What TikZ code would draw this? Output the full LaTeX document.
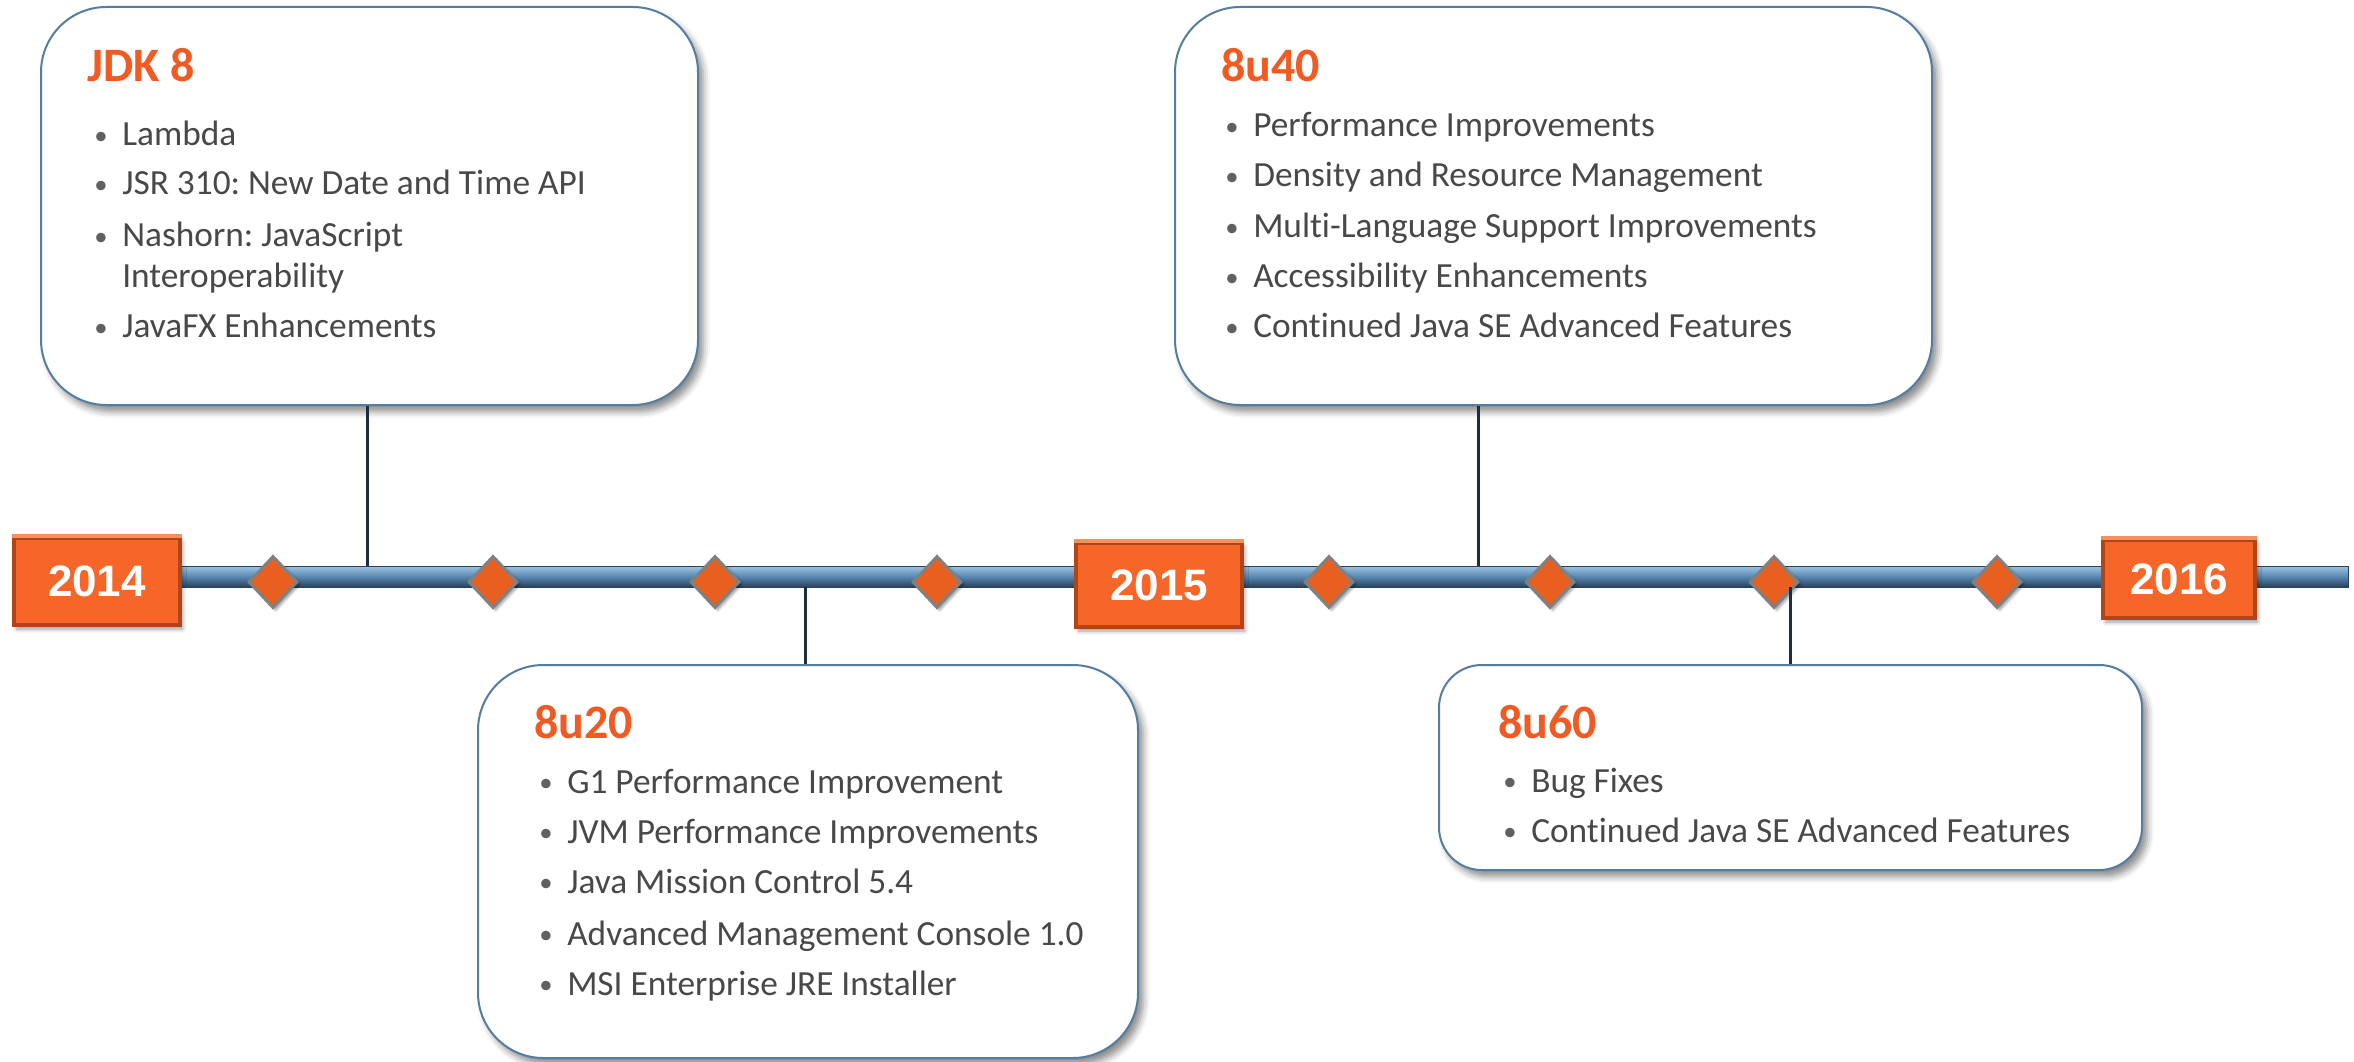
\documentclass[tikz,border=0pt]{standalone}
\usepackage{fontspec}
\setmainfont{Carlito}[Ligatures={TeX,NoCommon}]
\newfontfamily\yearfont{Liberation Sans}
\usetikzlibrary{shapes.geometric,shadows.blur}
\frenchspacing

\definecolor{ttlorange}{RGB}{240,90,35}
\definecolor{textgray}{RGB}{72,72,72}
\definecolor{bulgray}{RGB}{96,96,96}
\definecolor{boxline}{RGB}{84,125,160}
\definecolor{stemcol}{RGB}{30,45,60}
\definecolor{barlight}{RGB}{160,196,226}
\definecolor{barmid}{RGB}{88,136,178}
\definecolor{bardark}{RGB}{40,66,92}
\definecolor{yearface}{RGB}{245,102,40}
\definecolor{yeardark}{RGB}{176,70,24}
\definecolor{yearlight}{RGB}{250,142,92}
\definecolor{diamfill}{RGB}{232,95,32}
\definecolor{diamline}{RGB}{128,128,128}

\newcommand{\bl}{\makebox[21pt][l]{\textcolor{bulgray}{\fontsize{20}{24}\selectfont\raisebox{1pt}{\textbullet}}}}

\tikzset{
  relbox/.style={draw=boxline, line width=1.5pt, fill=white, rounded corners=49pt, inner sep=0pt,
    blur shadow={shadow xshift=4pt, shadow yshift=-5pt, shadow blur radius=5pt, shadow opacity=45}},
  ttl/.style={anchor=base west, inner sep=0pt, text=ttlorange, font=\fontsize{36}{40}\selectfont\bfseries},
  item/.style={anchor=base west, inner sep=0pt, text=textgray, font=\fontsize{26.5}{32}\selectfont},
  yearbox/.style={fill=yearface, draw=yeardark, line width=3pt, inner sep=0pt, text=white,
    font=\yearfont\bfseries\fontsize{33}{38}\selectfont,
    blur shadow={shadow xshift=2pt, shadow yshift=-3pt, shadow blur radius=3pt, shadow opacity=40}},
  bevtop/.style={draw=yearlight, line width=3pt},
  diam/.style={diamond, minimum width=36.75pt, minimum height=39pt, inner sep=0pt, fill=diamfill,
    draw=diamline, line width=2.25pt,
    blur shadow={shadow xshift=2pt, shadow yshift=-2pt, shadow blur radius=2pt, shadow opacity=40}},
  stem/.style={draw=stemcol, line width=2.25pt}
}

\begin{document}
\begin{tikzpicture}[x=0.75pt,y=0.75pt,yscale=-1,xscale=1]
\useasboundingbox (0,0) rectangle (2354,1062);

%Shape: Timeline bar
\shade[top color=barlight, bottom color=bardark, middle color=barmid] (150,566) rectangle (2348,587);
\draw[bardark, line width=0.75pt] (150,566) rectangle (2348,587);

%Bar points for the stems
\coordinate (s14) at (367,566);
\coordinate (s20) at (805,587);
\coordinate (s40) at (1478,566);
\coordinate (s60) at (1790,587);

%Shape: Diamonds
\node[diam] (d1) at (273,582) {};
\node[diam] (d2) at (493,582) {};
\node[diam] (d3) at (715,582) {};
\node[diam] (d4) at (937,582) {};
\node[diam] (d5) at (1329,582) {};
\node[diam] (d6) at (1550,582) {};
\node[diam] (d7) at (1774,582) {};
\node[diam] (d8) at (1997,582) {};

%Shape: Year boxes
\node[yearbox, minimum width=124.5pt, minimum height=65.25pt] (y14) at (97,581.5) {2014};
\node[yearbox, minimum width=124.5pt, minimum height=63pt] (y15) at (1159,585) {2015};
\node[yearbox, minimum width=114pt, minimum height=58.5pt] (y16) at (2179,579) {2016};
\draw[bevtop] (y14.north west) -- (y14.north east);
\draw[bevtop] (y15.north west) -- (y15.north east);
\draw[bevtop] (y16.north west) -- (y16.north east);

%Shape: Release boxes
\node[relbox, minimum width=492.75pt, minimum height=298.5pt] (jdk) at (369.5,206) {};
\node[relbox, minimum width=567.75pt, minimum height=298.5pt] (u40) at (1553.5,206) {};
\node[relbox, minimum width=495pt, minimum height=294.75pt] (u20) at (808,861.5) {};
\node[relbox, minimum width=527.25pt, minimum height=153.75pt, rounded corners=32pt] (u60) at (1790.5,767.5) {};

%Straight Lines: stems
\draw[stem] (jdk.south -| s14) -- (s14);
\draw[stem] (u40.south -| s40) -- (s40);
\draw[stem] (s20) -- (u20.north -| s20);
\draw[stem] (s60) -- (u60.north -| s60);

% Text Node: JDK 8
\node[ttl] (jdkt) at (87,82) {JDK 8};
\node[item] (jdk1) at (94,146) {\bl Lambda};
\node[item] (jdk2) at (94,195) {\bl JSR 310: New Date and Time API};
\node[item] (jdk3) at (94,247) {\bl Nashorn: JavaScript};
\node[item] (jdk3b) at (122,288) {Interoperability};
\node[item] (jdk4) at (94,338) {\bl JavaFX Enhancements};

% Text Node: 8u40
\node[ttl] (u40t) at (1221,82) {8u40};
\node[item] (u40a) at (1225,137) {\bl Performance Improvements};
\node[item] (u40b) at (1225,187) {\bl Density and Resource Management};
\node[item] (u40c) at (1225,238) {\bl Multi-Language Support Improvements};
\node[item] (u40d) at (1225,288) {\bl Accessibility Enhancements};
\node[item] (u40e) at (1225,338) {\bl Continued Java SE Advanced Features};

% Text Node: 8u20
\node[ttl] (u20t) at (534,738) {8u20};
\node[item] (u20a) at (539,793) {\bl G1 Performance Improvement};
\node[item] (u20b) at (539,843) {\bl JVM Performance Improvements};
\node[item] (u20c) at (539,893) {\bl Java Mission Control 5.4};
\node[item] (u20d) at (539,945) {\bl Advanced Management Console 1.0};
\node[item] (u20e) at (539,995) {\bl MSI Enterprise JRE Installer};

% Text Node: 8u60
\node[ttl] (u60t) at (1498,738) {8u60};
\node[item] (u60a) at (1503,792) {\bl Bug Fixes};
\node[item] (u60b) at (1503,842) {\bl Continued Java SE Advanced Features};

\end{tikzpicture}
\end{document}
